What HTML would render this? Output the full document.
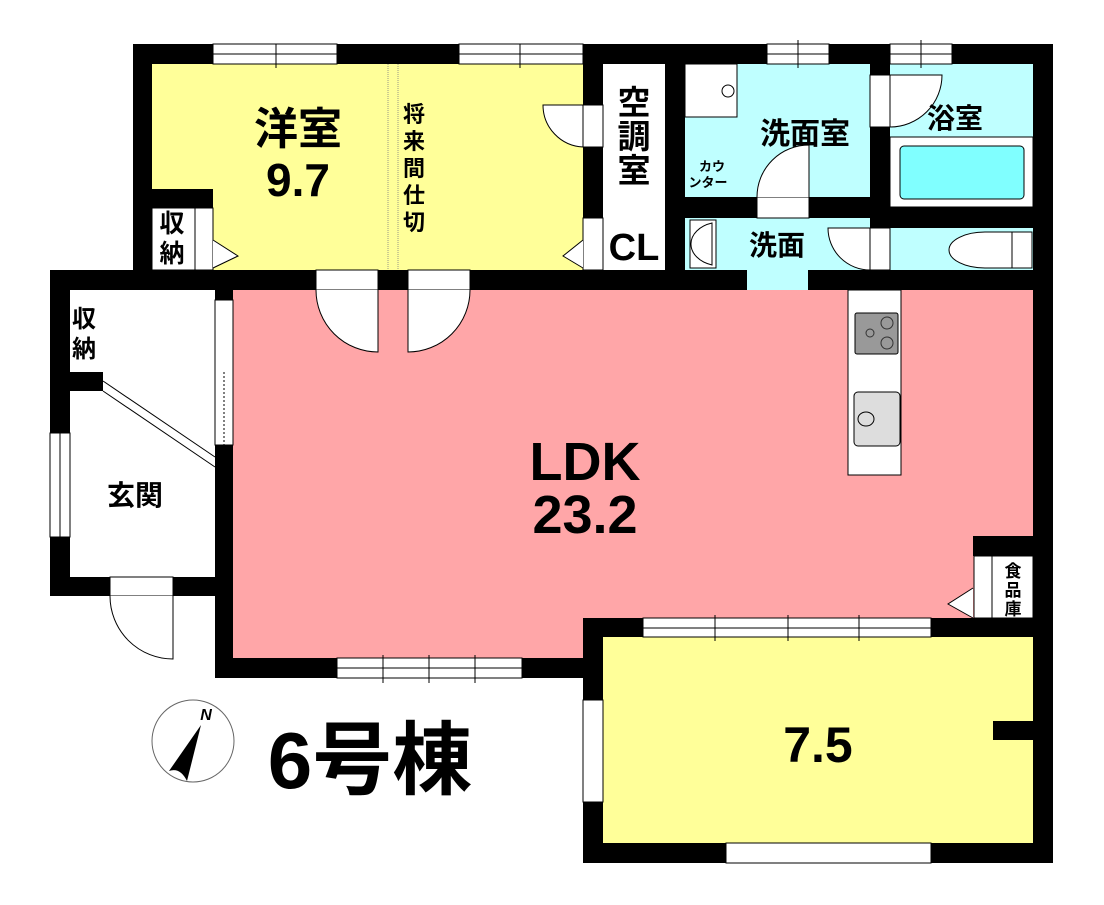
<!DOCTYPE html>
<html><head><meta charset="utf-8"><style>
html,body{margin:0;padding:0;background:#fff;width:1104px;height:905px;overflow:hidden}
svg{display:block}
text{font-family:"Liberation Sans","Noto Sans CJK JP",sans-serif;font-weight:bold;fill:#000}
</style></head><body>
<svg width="1104" height="905" viewBox="0 0 1104 905" xmlns="http://www.w3.org/2000/svg">
<!-- room fills -->
<rect x="152" y="64" width="431" height="206" fill="#ffff99"/>
<rect x="233" y="290" width="800" height="328" fill="#ffa6a8"/>
<rect x="233" y="600" width="350" height="58" fill="#ffa6a8"/>
<rect x="603" y="637" width="430" height="206" fill="#ffff99"/>
<rect x="685" y="64" width="185" height="133" fill="#bfffff"/>
<rect x="685" y="218" width="185" height="52" fill="#bfffff"/>
<rect x="747" y="268" width="61" height="22" fill="#bfffff"/>
<rect x="890" y="64" width="143" height="73" fill="#bfffff"/>
<rect x="890" y="228" width="143" height="42" fill="#bfffff"/>
<rect x="603" y="64" width="62" height="133" fill="#fff"/>
<rect x="603" y="218" width="62" height="52" fill="#fff"/>
<rect x="70" y="289" width="145" height="288" fill="#fff"/>
<!-- walls -->
<g fill="#000">
<rect x="133" y="44" width="920" height="20"/>
<rect x="133" y="44" width="19" height="246"/>
<rect x="152" y="189" width="61" height="19"/>
<rect x="50" y="270" width="697" height="20"/>
<rect x="808" y="270" width="245" height="20"/>
<rect x="583" y="44" width="20" height="246"/>
<rect x="665" y="44" width="20" height="246"/>
<rect x="870" y="44" width="20" height="246"/>
<rect x="685" y="197" width="185" height="21"/>
<rect x="890" y="207" width="143" height="21"/>
<rect x="1033" y="44" width="20" height="819"/>
<rect x="50" y="270" width="20" height="326"/>
<rect x="50" y="372" width="53" height="19"/>
<rect x="50" y="577" width="60" height="19"/>
<rect x="173" y="577" width="42" height="19"/>
<rect x="215" y="289" width="18" height="389"/>
<rect x="215" y="658" width="388" height="20"/>
<rect x="583" y="618" width="20" height="245"/>
<rect x="583" y="618" width="470" height="19"/>
<rect x="583" y="843" width="470" height="20"/>
<rect x="973" y="536" width="80" height="20"/>
<rect x="993" y="721" width="40" height="19"/>
</g>
<!-- windows / openings -->
<g fill="#fff" stroke="#000" stroke-width="1">
<rect x="213" y="44" width="124" height="20"/>
<rect x="459" y="44" width="124" height="20"/>
<rect x="767" y="44" width="62" height="20"/>
<rect x="890" y="44" width="62" height="20"/>
<rect x="643" y="618" width="288" height="19"/>
<rect x="726" y="843" width="205" height="20"/>
<rect x="583" y="700" width="20" height="102"/>
<rect x="337" y="658" width="185" height="20"/>
<rect x="50" y="433" width="20" height="104"/>
<rect x="215" y="300" width="18" height="145"/>
<rect x="110" y="577" width="63" height="19"/>
<rect x="316" y="270" width="62" height="20"/>
<rect x="408" y="270" width="62" height="20"/>
<rect x="583" y="105" width="20" height="42"/>
<rect x="583" y="218" width="20" height="52"/>
<rect x="757" y="197" width="52" height="21"/>
<rect x="870" y="75" width="20" height="52"/>
<rect x="870" y="228" width="20" height="42"/>
<rect x="152" y="208" width="61" height="62"/>
<rect x="974" y="556" width="59" height="62"/>
<rect x="685" y="64" width="52" height="53"/>
<rect x="848" y="290" width="53" height="185"/>
<rect x="890" y="137" width="143" height="70"/>
</g>
<g stroke="#000" stroke-width="1" fill="none">
<line x1="213" y1="54" x2="337" y2="54"/><line x1="276" y1="44" x2="276" y2="68"/>
<line x1="459" y1="54" x2="583" y2="54"/><line x1="520" y1="44" x2="520" y2="68"/>
<line x1="767" y1="54" x2="829" y2="54"/><line x1="798" y1="40" x2="798" y2="68"/>
<line x1="890" y1="54" x2="952" y2="54"/><line x1="921" y1="40" x2="921" y2="68"/>
<line x1="643" y1="628" x2="931" y2="628"/><line x1="715" y1="615" x2="715" y2="641"/><line x1="788" y1="615" x2="788" y2="641"/><line x1="859" y1="615" x2="859" y2="641"/>
<line x1="337" y1="668" x2="522" y2="668"/><line x1="383" y1="655" x2="383" y2="683"/><line x1="429" y1="655" x2="429" y2="683"/><line x1="475" y1="655" x2="475" y2="683"/>
<line x1="60" y1="433" x2="60" y2="537"/>
<line x1="224" y1="372" x2="224" y2="445" stroke-dasharray="2 2"/>
<line x1="195" y1="208" x2="195" y2="270"/>
<line x1="992" y1="556" x2="992" y2="618"/>
<line x1="388" y1="64" x2="388" y2="270" stroke="#998" stroke-dasharray="1 1"/>
<line x1="398" y1="64" x2="398" y2="270" stroke="#998" stroke-dasharray="1 1"/>
<line x1="103" y1="381" x2="215" y2="457"/><line x1="103" y1="391" x2="215" y2="467"/>
<!-- doors -->
<path d="M316 290 A62 62 0 0 0 378 352 L378 290" fill="#fff"/>
<path d="M470 290 A62 62 0 0 1 408 352 L408 290" fill="#fff"/>
<path d="M543 105 A42 42 0 0 0 583 147 L583 105 Z" fill="#fff"/>
<path d="M110 596 A63 63 0 0 0 173 659 L173 596" fill="#fff"/>
<path d="M757 197 A52 52 0 0 1 809 145 L809 197" fill="#fff"/>
<path d="M942 75 A52 52 0 0 1 890 127 L890 75 Z" fill="#fff"/>
<path d="M828 228 A42 42 0 0 0 870 270 L870 228 Z" fill="#fff"/>
<path d="M213 240 L238 256 L213 268" fill="#fff"/>
<path d="M583 240 L563 256 L583 268" fill="#fff"/>
<path d="M973 588 L948 604 L973 618" fill="#fff"/>
</g>
<circle cx="728" cy="91" r="6" fill="#fff" stroke="#000"/>
<rect x="900" y="146" width="124" height="53" rx="4" fill="#80ffff" stroke="#000"/>
<rect x="690" y="220" width="26" height="48" fill="#fff" stroke="#000"/>
<path d="M712 223 A30 22 0 0 0 712 265 Z" fill="#fff" stroke="#000"/>
<path d="M1012 232 L985 232 A30 15 0 0 0 985 268 L1012 268 Z" fill="#fff" stroke="#000"/>
<rect x="1012" y="232" width="20" height="36" fill="#fff" stroke="#000"/>
<rect x="855" y="313" width="43" height="41" rx="2" fill="#999" stroke="#000"/>
<circle cx="887" cy="323" r="6" fill="none" stroke="#333"/><circle cx="887" cy="343" r="6" fill="none" stroke="#333"/><circle cx="870" cy="333" r="4" fill="none" stroke="#333"/>
<rect x="854" y="392" width="46" height="54" rx="4" fill="#ddd" stroke="#000"/>
<ellipse cx="866" cy="419" rx="8" ry="7" fill="none" stroke="#000"/>
<!-- text -->
<text x="298" y="144" font-size="44" text-anchor="middle">洋室</text>
<text x="298" y="196" font-size="46" text-anchor="middle" font-weight="normal">9.7</text>
<g font-size="22" text-anchor="middle">
<text x="414" y="122">将</text><text x="414" y="149">来</text><text x="414" y="176">間</text><text x="414" y="203">仕</text><text x="414" y="230">切</text>
</g>
<g font-size="33" text-anchor="middle"><text x="634" y="114">空</text><text x="634" y="148">調</text><text x="634" y="182">室</text></g>
<text x="634" y="260" font-size="38" text-anchor="middle">CL</text>
<text x="805" y="144" font-size="30" text-anchor="middle">洗面室</text>
<text x="712" y="171" font-size="13" text-anchor="middle" font-weight="normal">カウ</text>
<text x="708" y="187" font-size="13" text-anchor="middle" font-weight="normal">ンター</text>
<text x="955" y="128" font-size="28" text-anchor="middle">浴室</text>
<text x="777" y="255" font-size="28" text-anchor="middle">洗面</text>
<g font-size="25" text-anchor="middle"><text x="172" y="232">収</text><text x="172" y="262">納</text></g>
<g font-size="24" text-anchor="middle"><text x="84" y="327">収</text><text x="84" y="357">納</text></g>
<text x="135" y="505" font-size="28" text-anchor="middle">玄関</text>
<g font-size="17" text-anchor="middle"><text x="1013" y="577">食</text><text x="1013" y="596">品</text><text x="1013" y="615">庫</text></g>
<text x="585" y="480" font-size="54" text-anchor="middle" font-weight="normal">LDK</text>
<text x="585" y="533" font-size="54" text-anchor="middle" font-weight="normal">23.2</text>
<text x="818" y="762" font-size="50" text-anchor="middle" font-weight="normal">7.5</text>
<text x="370" y="788" font-size="80" text-anchor="middle">6号棟</text>
<!-- compass -->
<circle cx="193" cy="741" r="41" fill="#fff" stroke="#666"/>
<path d="M201 725 L169 771 Q180 767 187 781 Z" fill="#000"/>
<text x="206" y="720" font-size="16" font-family="Liberation Serif" font-style="italic" font-weight="normal" text-anchor="middle">N</text>
</svg>
</body></html>
